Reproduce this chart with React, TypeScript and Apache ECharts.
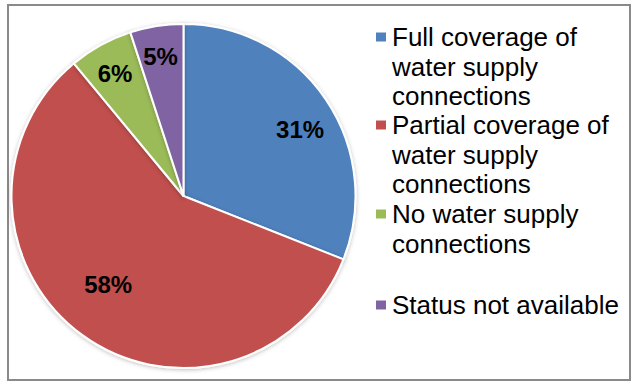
import React, { useEffect, useRef } from 'react';
import * as echarts from 'echarts';

const categories = [
  'Full coverage of\nwater supply\nconnections',
  'Partial coverage of\nwater supply\nconnections',
  'No water supply\nconnections',
  'Status not available',
];
const shares = [31, 58, 6, 5];

const colors = ['#4F81BD', '#C0504D', '#9BBB59', '#8064A2'];
const labelShift = [
  [43, -16],
  [-23, 16.5],
  [-25.6, -45],
  [-9, -52],
];
const legendIconY = [37, 125, 214, 305];
const LINE = 29.5;
const FONT = '"Liberation Sans", Arial, sans-serif';

export default function App() {
  const ref = useRef<HTMLDivElement>(null);
  useEffect(() => {
    document.body.style.margin = '0';
    const chart = echarts.init(ref.current!, null, { renderer: 'svg' });
    const legends = categories.map((name, i) => {
      const n = name.split('\n').length;
      return {
        data: [name],
        orient: 'vertical',
        left: 374,
        top: legendIconY[i] - ((2 * n - 1) * LINE) / 2,
        padding: 0,
        itemGap: 0,
        itemWidth: 12,
        itemHeight: 11,
        icon: 'rect',
        selectedMode: false,
        formatter: (nm: string) => '\n'.repeat(n - 1) + nm,
        textStyle: {
          fontFamily: FONT,
          fontSize: 26,
          color: '#000',
          lineHeight: LINE,
        },
      };
    });
    chart.setOption({
      animation: false,
      backgroundColor: '#fff',
      legend: legends,
      graphic: [
        {
          type: 'rect',
          shape: { x: 8, y: 5, width: 622, height: 375 },
          style: { fill: 'none', stroke: '#8a8a8a', lineWidth: 2 },
          silent: true,
          z: -10,
        },
      ],
      series: [
        {
          type: 'pie',
          center: [183.5, 196],
          radius: 172,
          startAngle: 90,
          clockwise: true,
          silent: true,
          data: categories.map((name, i) => ({
            name,
            value: shares[i],
            itemStyle: { color: colors[i] },
          })),
          itemStyle: {
            borderColor: '#fff',
            borderWidth: 2,
            shadowBlur: 4,
            shadowColor: 'rgba(0,0,0,0.25)',
            shadowOffsetY: 1,
          },
          label: {
            show: true,
            position: 'inside',
            formatter: '{c}%',
            fontFamily: FONT,
            fontSize: 24,
            fontWeight: 'bold',
            color: '#000',
          },
          labelLine: { show: false },
          labelLayout: (p: any) => ({
            dx: labelShift[p.dataIndex][0],
            dy: labelShift[p.dataIndex][1],
          }),
          emphasis: { disabled: true },
        },
      ],
    });
    return () => chart.dispose();
  }, []);
  return <div ref={ref} style={{ width: 639, height: 386 }} />;
}
